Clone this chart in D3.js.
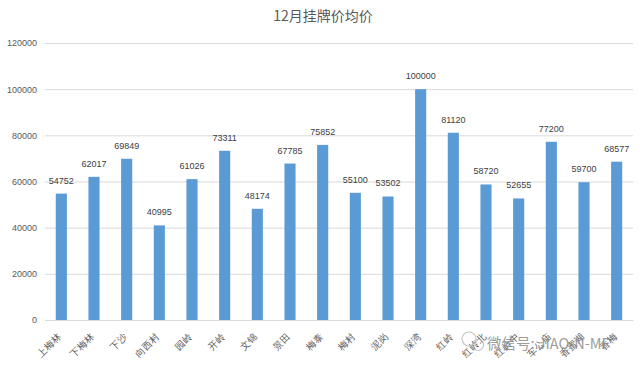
<!DOCTYPE html>
<html><head><meta charset="utf-8">
<script src="https://cdn.jsdelivr.net/npm/d3@7"></script>
<style>body{margin:0;background:#fff}svg{display:block}</style>
</head><body>
<script>
const categories = ["上梅林","下梅林","下沙","向西村","园岭","开岭","文锦","景田","梅泰","梅村","泥岗","深湾","红岭","红岭北","红岭中","车公庙","香蜜湖","香梅"];
const values = [54752,62017,69849,40995,61026,73311,48174,67785,75852,55100,53502,100000,81120,58720,52655,77200,59700,68577];
const yTicks = [0,20000,40000,60000,80000,100000,120000];
const title = "12月挂牌价均价";

const W=640,H=369, m={l:45,r:7,t:43,b:49};
const svg=d3.select("body").append("svg").attr("width",W).attr("height",H)
  .style("font-family","'Noto Sans CJK SC','Liberation Sans',sans-serif");
const x=d3.scaleBand().domain(categories).range([m.l,W-m.r]).paddingInner(0.66).paddingOuter(0.33);
const y=d3.scaleLinear().domain([0,120000]).range([H-m.b,m.t]);

svg.append("text").attr("x",W/2+3).attr("y",21).attr("text-anchor","middle")
  .attr("font-size",14).attr("fill","#595959").text(title);

const ya=svg.append("g").attr("transform",`translate(${m.l},0)`)
  .call(d3.axisLeft(y).tickValues(yTicks).tickSize(-(W-m.l-m.r)).tickFormat(d3.format("d")).tickPadding(8));
ya.select(".domain").remove();
ya.selectAll(".tick line").attr("stroke","#d9d9d9");
ya.selectAll(".tick text").attr("fill","#595959").attr("font-size",9).attr("font-family","'Liberation Sans',sans-serif");

svg.selectAll("rect.bar").data(values).join("rect").attr("class","bar")
  .attr("x",(d,i)=>x(categories[i])).attr("width",x.bandwidth())
  .attr("y",d=>y(d)).attr("height",d=>y(0)-y(d)).attr("fill","#5b9bd5");

svg.selectAll("text.val").data(values).join("text").attr("class","val")
  .attr("x",(d,i)=>x(categories[i])+x.bandwidth()/2).attr("y",d=>y(d)-10)
  .attr("text-anchor","middle").attr("font-size",9).attr("fill","#404040")
  .attr("font-family","'Liberation Sans',sans-serif").text(d=>d);

const xa=svg.append("g").attr("transform",`translate(0,${H-m.b})`).call(d3.axisBottom(x).tickSize(0).tickPadding(0));
xa.select(".domain").attr("stroke","#d9d9d9");
xa.selectAll(".tick text").attr("fill","#595959").attr("font-size",9.5)
  .attr("text-anchor","end").attr("x",0).attr("y",0).attr("dy",0).attr("transform","translate(1,17) rotate(-45)");

// watermark
const wm=svg.append("g").attr("opacity",0.85);
wm.append("circle").attr("cx",469).attr("cy",339).attr("r",7).attr("fill","none").attr("stroke","#bbb").attr("stroke-width",1.2);
wm.append("circle").attr("cx",478).attr("cy",345).attr("r",5.5).attr("fill","none").attr("stroke","#bbb").attr("stroke-width",1.2);
wm.append("text").attr("x",487).attr("y",349).attr("font-size",14.5).attr("fill","#8c8c8c").text("微信号: JIAO-N-MF");
</script>
</body></html>
